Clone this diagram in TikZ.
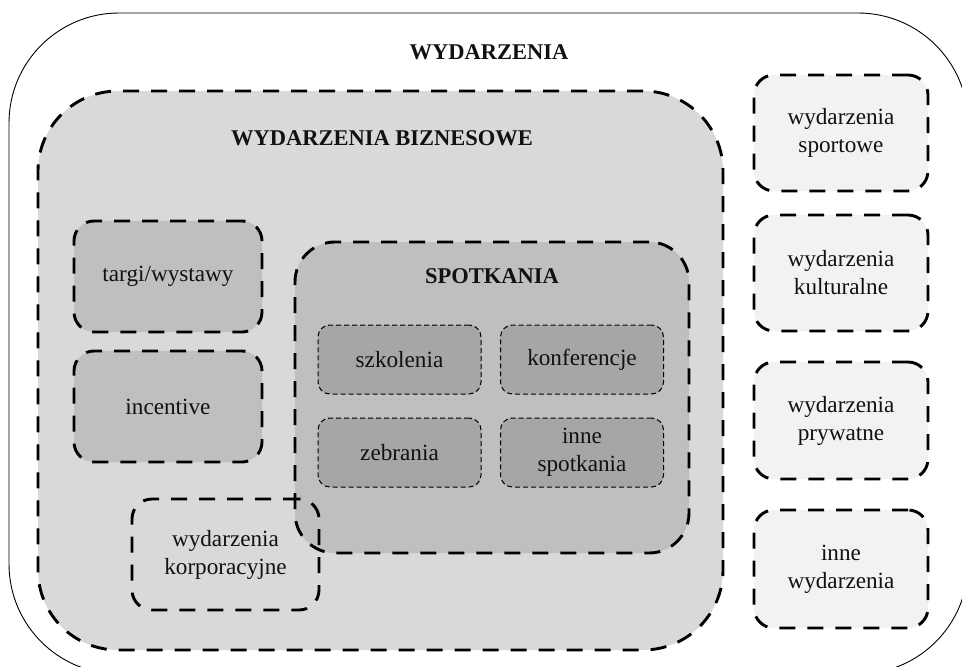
\documentclass[tikz,border=0pt]{standalone}
\usepackage{fontspec}
\setmainfont{Liberation Serif}
\definecolor{bizfill}{HTML}{D9D9D9}
\definecolor{midfill}{HTML}{BFBFBF}
\definecolor{darkfill}{HTML}{A6A6A6}
\definecolor{lightfill}{HTML}{F2F2F2}
\definecolor{ink}{HTML}{111111}
\begin{document}
\begin{tikzpicture}[x=1pt,y=-1pt,
  every node/.style={inner sep=0pt, outer sep=0pt, align=center, text=ink,
    font=\fontsize{23.2}{28}\selectfont},
  box/.style={rectangle, draw=black},
  thickdash/.style={box, line width=2.9pt, dash pattern=on 16pt off 12pt},
  thindash/.style={box, line width=1pt, dash pattern=on 5pt off 3pt},
  outerbox/.style={box, line width=0.9pt, rounded corners=110pt},
  bizbox/.style={thickdash, fill=bizfill, rounded corners=80pt},
  spotbox/.style={thickdash, fill=midfill, rounded corners=40pt},
  leftbox/.style={thickdash, fill=midfill, rounded corners=20pt,
    minimum width=188pt, minimum height=111pt},
  corpbox/.style={thickdash, rounded corners=20pt,
    minimum width=187pt, minimum height=111pt},
  meetbox/.style={thindash, fill=darkfill, rounded corners=12pt,
    minimum width=163pt, minimum height=69pt},
  otherbox/.style={thickdash, fill=lightfill, rounded corners=20pt,
    minimum width=174pt},
  heading/.style={font=\fontsize{22.5}{28}\selectfont\bfseries}
]
\useasboundingbox (0,0) rectangle (962,667);
\begin{scope}
\clip (0,0) rectangle (962,667);

% outer frame: all events
\node[outerbox, minimum width=959pt, minimum height=661pt] (wyd) at (488.5,343.5) {};

% business events
\node[bizbox, minimum width=685pt, minimum height=559pt] (biz) at (380.5,370.5) {};

\node[leftbox] (targi) at (168,276.5) {targi/wystawy};
\node[leftbox] (incent) at (168,406.5) {incentive};

% meetings
\node[spotbox, minimum width=394pt, minimum height=311pt] (spot) at (492,397.5) {};
\node[meetbox] (szk) at (399.5,359.5) {szkolenia};
\node[meetbox] (konf) at (582,359.5) {konferencje};
\node[meetbox] (zeb) at (399.5,452.5) {zebrania};
\node[meetbox] (innesp) at (582,452.5) {inne\\spotkania};

% corporate events, overlapping the meetings box
\node[corpbox] (korp) at (225.5,554.5) {wydarzenia\\korporacyjne};

% other kinds of events
\node[otherbox, minimum height=116pt] (sport) at (841,133) {wydarzenia\\sportowe};
\node[otherbox, minimum height=116pt] (kult) at (841,273) {wydarzenia\\kulturalne};
\node[otherbox, minimum height=117pt] (pryw) at (841,420.5) {wydarzenia\\prywatne};
\node[otherbox, minimum height=118pt] (innew) at (841,569) {inne\\wydarzenia};

% headings
\node[heading] (twyd) at (489,52) {WYDARZENIA};
\node[heading] (tbiz) at (382,138) {WYDARZENIA BIZNESOWE};
\node[heading] (tspot) at (492,276) {SPOTKANIA};
\end{scope}
\end{tikzpicture}
\end{document}
